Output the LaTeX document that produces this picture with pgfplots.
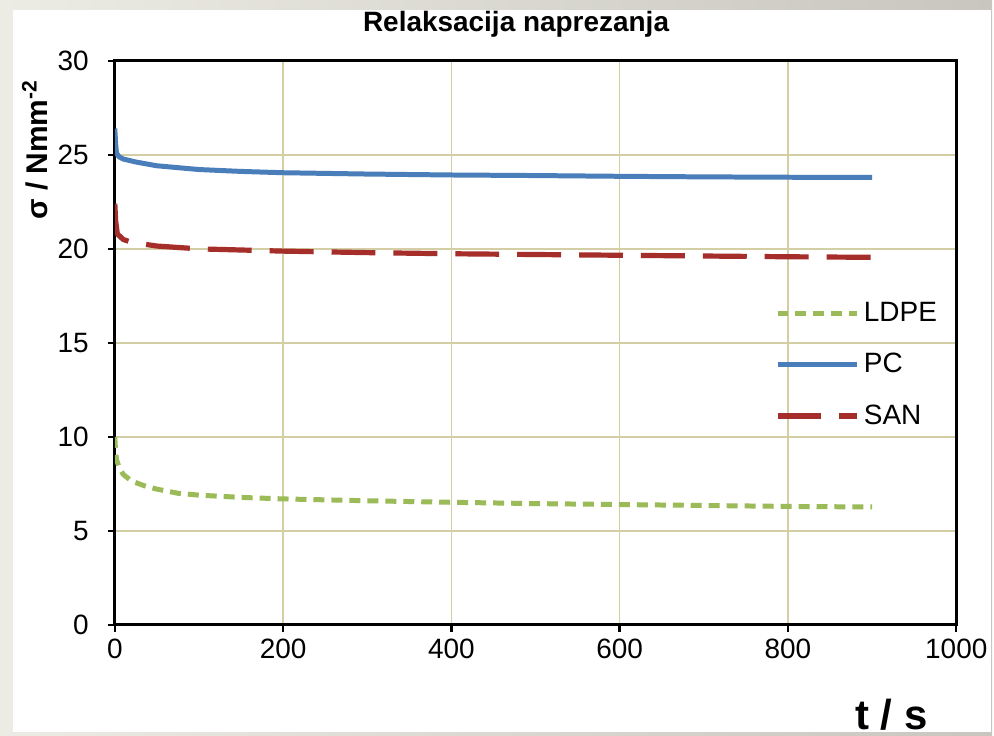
\documentclass[border=0pt]{standalone}
\usepackage{fontspec}
\setmainfont{Liberation Sans}
\usepackage{pgfplots}
\pgfplotsset{compat=1.18}
\definecolor{pcblue}{RGB}{74,126,187}
\definecolor{sanred}{RGB}{165,45,42}
\definecolor{ldpegreen}{RGB}{155,187,89}
\definecolor{gridtan}{RGB}{212,206,165}
\definecolor{bgl}{RGB}{236,235,228}
\definecolor{bgr}{RGB}{200,198,190}
\begin{document}
\begin{tikzpicture}
\fill[left color=bgl, right color=bgr] (0,0) rectangle (497pt,368.5pt);
\fill[white] (6.5pt,2pt) rectangle (496.5pt,363.5pt);
\begin{axis}[
  at={(57.5pt,55.5pt)}, anchor=south west,
  scale only axis, width=421.5pt, height=282.5pt,
  xmin=0, xmax=1000, ymin=0, ymax=30,
  xtick={0,200,...,1000}, ytick={0,5,...,30},
  grid=major, major grid style={gridtan, line width=0.7pt},
  axis line style={black, line width=1.4pt},
  tick pos=left, tick align=outside, major tick length=3.5pt,
  tick style={black, line width=1.2pt},
  ticklabel style={font=\fontsize{14}{16}\selectfont},
  yticklabel style={xshift=-6pt},
  /pgf/number format/assume math mode=true,
  /pgf/number format/1000 sep={},
  legend style={at={(rel axis cs:0.784,0.58)}, anchor=north west, draw=none, fill=none,
    font=\fontsize{14}{16}\selectfont, row sep=10.5pt, inner sep=0pt},
  legend cell align=left,
  legend image code/.code={\draw[#1] (0pt,0pt) -- (40pt,0pt);},
]
\addplot[ldpegreen, line width=2.5pt, dash pattern=on 5.5pt off 3.5pt, line join=round] coordinates {
(0,10) (1,9.2) (2,8.8) (5,8.4) (10,8.0) (20,7.65) (35,7.4) (50,7.22) (75,7.0) (100,6.9) (150,6.78) (200,6.7) (300,6.6) (400,6.52) (500,6.45) (600,6.4) (700,6.35) (800,6.3) (900,6.27)};
\addlegendentry{LDPE}
\addplot[pcblue, line width=2.5pt, line join=round] coordinates {
(0,26.4) (1,25.6) (2,25.1) (5,24.9) (10,24.78) (25,24.62) (50,24.42) (100,24.22) (150,24.12) (200,24.05) (300,23.98) (400,23.93) (500,23.9) (600,23.86) (700,23.83) (800,23.81) (900,23.8)};
\addlegendentry{PC}
\addplot[sanred, line width=2.6pt, dash pattern=on 22pt off 9pt, line join=round] coordinates {
(0,22.4) (1,21.5) (3,20.8) (10,20.5) (20,20.35) (50,20.15) (100,20.0) (200,19.88) (300,19.8) (400,19.74) (500,19.7) (600,19.66) (700,19.62) (800,19.58) (900,19.55)};
\addlegendentry{SAN}
\end{axis}
\node[font=\fontsize{14}{16}\selectfont\bfseries] at (258.5pt,356.5pt) {Relaksacija naprezanja};
\node[rotate=90, font=\fontsize{15}{17}\selectfont\bfseries] at (17.5pt,293.5pt) {σ / Nmm\textsuperscript{-2}};
\node[font=\fontsize{21}{23}\selectfont\bfseries, anchor=base, inner sep=0pt] at (446.5pt,3pt) {t / s};
\end{tikzpicture}
\end{document}
